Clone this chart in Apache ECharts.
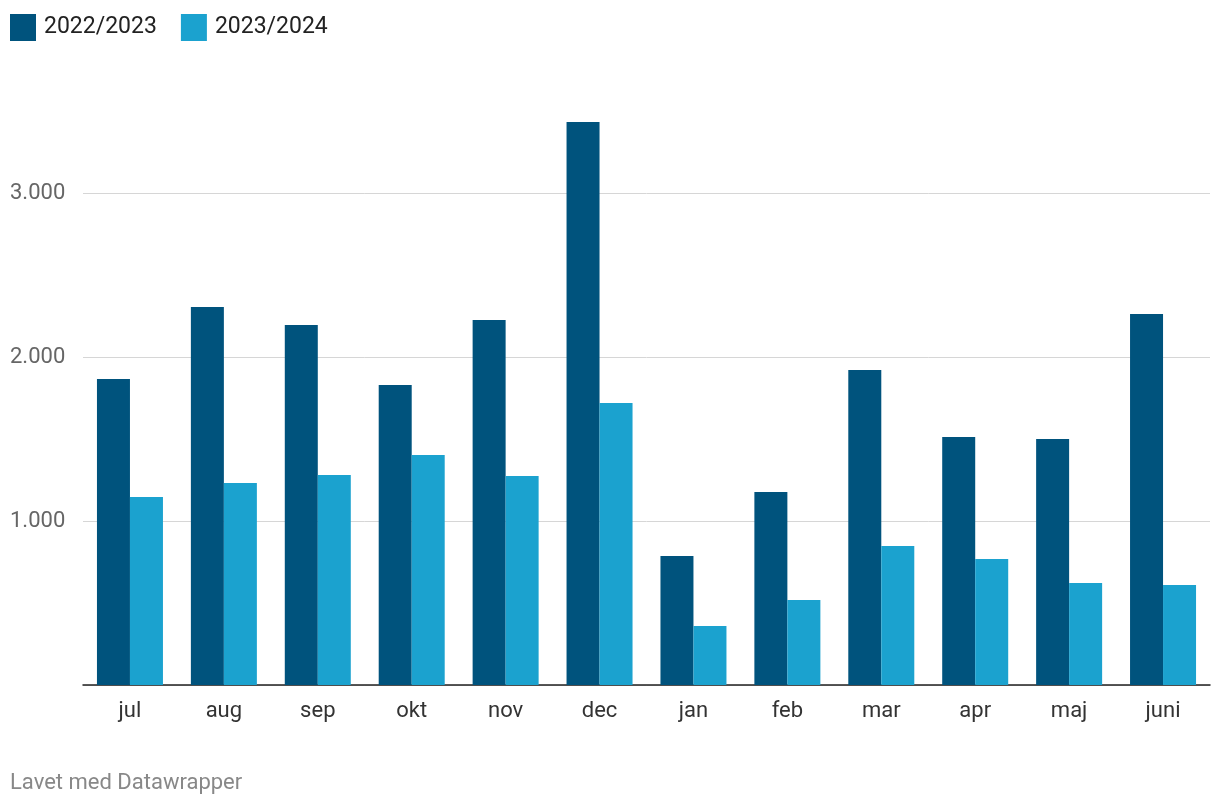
<!DOCTYPE html>
<html>
<head>
<meta charset="utf-8">
<script src="https://cdn.jsdelivr.net/npm/echarts@6/dist/echarts.min.js"></script>
<style>
html,body{margin:0;padding:0;background:#fff;}
#c{width:1220px;height:808px;}
</style>
</head>
<body>
<div id="c"></div>
<script>
const categories = ['jul','aug','sep','okt','nov','dec','jan','feb','mar','apr','maj','juni'];
const seriesNames = ['2022/2023','2023/2024'];
const values2022 = [1866,2305,2195,1829,2226,3433,787,1177,1921,1512,1500,2262];
const values2023 = [1146,1232,1280,1402,1274,1720,360,518,848,768,622,610];
const yTicks = [0,1000,2000,3000];

const chart = echarts.init(document.getElementById('c'), null, {renderer:'canvas'});
const font = 'Roboto, "Noto Sans", sans-serif';
chart.setOption({
  animation:false,
  backgroundColor:'#fff',
  textStyle:{fontFamily:font},
  legend:{
    left:5, top:9, itemWidth:26, itemHeight:27, itemGap:24,
    icon:'rect',
    textStyle:{fontSize:23, color:'#222', fontFamily:font, padding:[0,0,0,3]},
    data:seriesNames
  },
  grid:{left:83, right:10, top:29, height:656},
  xAxis:{
    type:'category', data:categories,
    axisLine:{lineStyle:{color:'#222', width:1.5}},
    axisTick:{show:false},
    axisLabel:{fontSize:22, color:'#333', margin:15, fontFamily:font}
  },
  yAxis:{
    type:'value', min:0, max:4000, interval:1000,
    axisLine:{show:false}, axisTick:{show:false},
    axisLabel:{
      align:'left', margin:73, fontSize:22, color:'#666', fontFamily:font, padding:[3,0,0,0],
      formatter:function(v){ if(yTicks.indexOf(v)<1) return ''; return (v/1000).toFixed(0)+'.000'; }
    },
    splitLine:{lineStyle:{color:['#d6d6d6','#d6d6d6','#d6d6d6','#d6d6d6','rgba(0,0,0,0)'], width:1}}
  },
  series:[
    {name:seriesNames[0], type:'bar', data:values2022, barWidth:33, barGap:'0%', itemStyle:{color:'#00537d'}},
    {name:seriesNames[1], type:'bar', data:values2023, barWidth:33, barGap:'0%', itemStyle:{color:'#1ba2cf'}}
  ],
  graphic:[{type:'text', left:10, top:772, style:{text:'Lavet med Datawrapper', fontSize:22, fill:'#888', fontFamily:font}}]
});
</script>
</body>
</html>
